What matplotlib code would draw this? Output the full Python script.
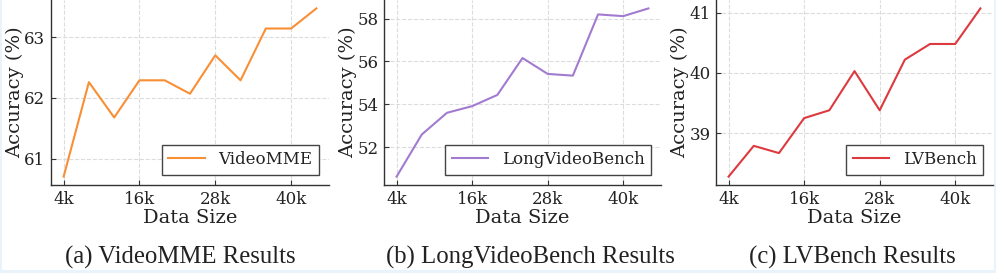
import numpy as np
import matplotlib
matplotlib.use("Agg")
import matplotlib.pyplot as plt
from matplotlib.patches import Rectangle

# data sizes (k samples)
data_size = [4, 8, 12, 16, 20, 24, 28, 32, 36, 40, 44]
xticks = [4, 16, 28, 40]
xtick_labels = ["4k", "16k", "28k", "40k"]

videomme = [60.71, 62.26, 61.68, 62.29, 62.29, 62.07, 62.70, 62.29, 63.14, 63.14, 63.47]
longvideobench = [50.64, 52.60, 53.61, 53.92, 54.44, 56.16, 55.42, 55.34, 58.19, 58.11, 58.47]
lvbench = [38.28, 38.79, 38.67, 39.25, 39.38, 40.03, 39.38, 40.22, 40.48, 40.48, 41.07]

names = ["VideoMME", "LongVideoBench", "LVBench"]
captions = ["(a) VideoMME Results", "(b) LongVideoBench Results", "(c) LVBench Results"]
yticks = [[61, 62, 63], [52, 54, 56, 58], [39, 40, 41]]
colors = ["#f98f35", "#a27bd0", "#dd3a3f"]

W, H = 996, 273
fig = plt.figure(figsize=(W / 100, H / 100), dpi=100, facecolor="#e8f3fb")
fig.patches.append(Rectangle((2 / W, 3 / H), 1 - 4 / W, 1, transform=fig.transFigure,
                             facecolor="white", edgecolor="none", zorder=-10))

# axes positions in pixels: left, right
ax_px = [(51, 329), (384, 661), (716, 993)]
cap_x = [180, 530, 852]
top, bottom = 0, 185

for i, series in enumerate([videomme, longvideobench, lvbench]):
    l, r = ax_px[i]
    ax = fig.add_axes([l / W, (H - bottom) / H, (r - l) / W, (bottom - top) / H])
    ax.set_facecolor("none")
    ax.plot(data_size, series, color=colors[i], lw=1.5, label=names[i])
    ax.set_xlim(2, 46)
    ax.set_xticks(xticks)
    ax.set_xticklabels(xtick_labels)
    ax.set_yticks(yticks[i])
    ax.grid(True, linestyle="--", color="#dcdcdc", lw=0.8)
    ax.set_axisbelow(True)
    for s in ["top", "right"]:
        ax.spines[s].set_visible(False)
    for s in ["left", "bottom"]:
        ax.spines[s].set_color("#333333")
        ax.spines[s].set_linewidth(1.0)
    ax.tick_params(direction="in", length=3.5, width=0.8, color="#333333",
                   labelsize=12, labelcolor="#222222", pad=4)
    for t in ax.get_xticklabels() + ax.get_yticklabels():
        t.set_fontfamily("DejaVu Serif")
    ax.set_xlabel("Data Size", fontsize=14, family="DejaVu Serif", color="#222222", labelpad=1)
    ax.set_ylabel("Accuracy (%)", fontsize=14, family="DejaVu Serif", color="#222222", labelpad=0)
    leg = ax.legend(loc="lower right", prop={"family": "DejaVu Serif", "size": 12},
                    fancybox=False, edgecolor="#444444", framealpha=1,
                    handlelength=2.2, borderaxespad=0.6)
    leg.get_frame().set_linewidth(1.0)
    for t in leg.get_texts():
        t.set_color("#222222")

    fig.text(cap_x[i] / W, (H - 257) / H, captions[i], ha="center", va="center",
             fontsize=17.8, family="Liberation Serif", color="#222222")

fig.savefig("out.png", dpi=100, facecolor=fig.get_facecolor())
